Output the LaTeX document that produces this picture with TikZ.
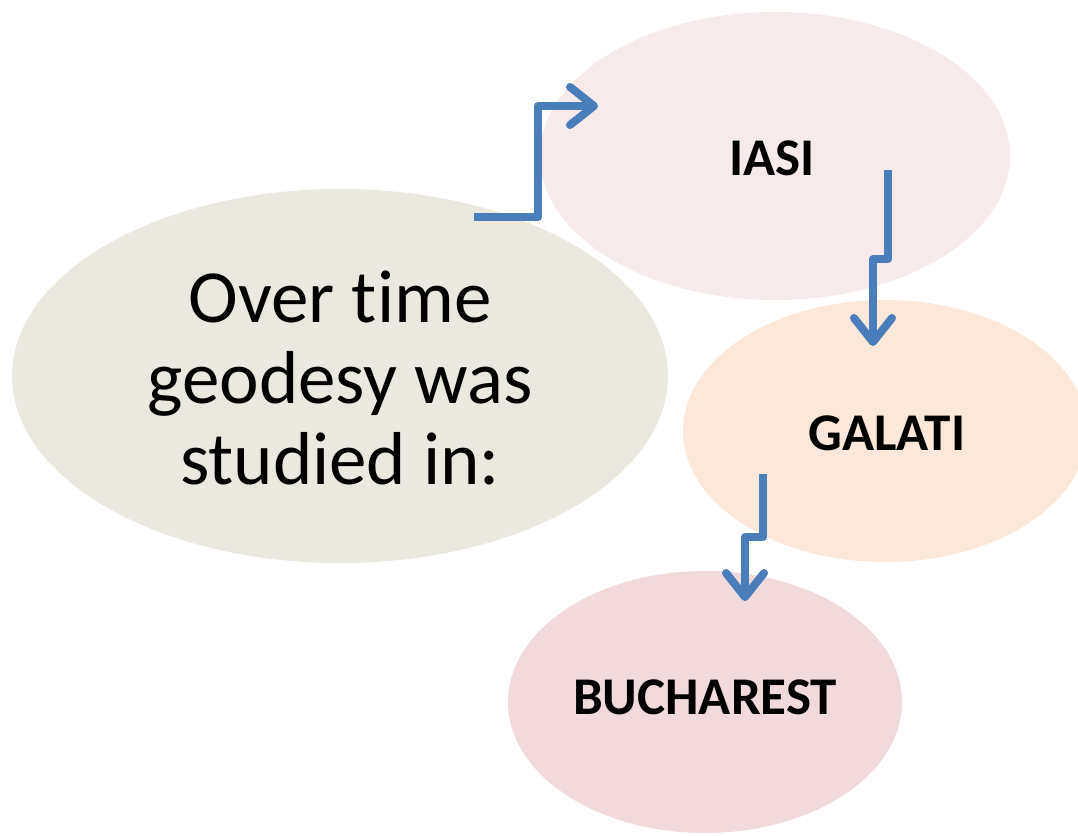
\documentclass[tikz,border=0pt]{standalone}
\usepackage{fontspec}
\setmainfont[Ligatures=NoCommon]{Carlito}
\usetikzlibrary{shapes.geometric,arrows.meta}
\definecolor{bigfill}{HTML}{EBE9DF}
\definecolor{iasifill}{HTML}{F7EAEA}
\definecolor{galfill}{HTML}{FCE8DA}
\definecolor{bucfill}{HTML}{F0DADB}
\definecolor{arrowblue}{HTML}{4A7EBB}
\tikzset{
  blob/.style={ellipse, draw=none, inner sep=0pt},
  city/.style={font=\fontsize{53}{60}\selectfont\bfseries, text=black},
  flow/.style={draw=arrowblue, line width=8pt, line join=round, line cap=butt,
    -{Straight Barb[length=24pt,width=38pt,round]}},
}
\begin{document}
\begin{tikzpicture}[x=1pt,y=-1pt]
\useasboundingbox (0,0) rectangle (1078,835);
\node[blob, fill=bigfill, minimum width=656pt, minimum height=374pt] (big) at (340,376) {};
\node[blob, fill=iasifill, minimum width=470pt, minimum height=288pt] (iasi) at (775,156) {};
\node[blob, fill=galfill, minimum width=404pt, minimum height=262pt] (galati) at (885,431) {};
\node[blob, fill=bucfill, minimum width=394pt, minimum height=262pt] (buch) at (705,702) {};
\node[align=center, font=\fontsize{75}{81}\selectfont] (bigtext) at (340,378) {Over time\\geodesy was\\studied in:};
\node[city] (iasitext) at (772,158) {IASI};
\node[city] (galtext) at (887,433) {GALATI};
\node[city] (buctext) at (705,697) {BUCHAREST};
% connectors
\coordinate (a1s) at (474,217);
\coordinate (a1b) at (538,217);
\coordinate (a1c) at (538,106);
\coordinate (a1e) at (598,106);
\draw[flow] (a1s) -- (a1b) -- (a1c) -- (a1e);
\coordinate (a2s) at (888,170);
\coordinate (a2b) at (888,259);
\coordinate (a2c) at (873,259);
\coordinate (a2e) at (873,346);
\draw[flow] (a2s) -- (a2b) -- (a2c) -- (a2e);
\coordinate (a3s) at (763,474);
\coordinate (a3b) at (763,537);
\coordinate (a3c) at (745,537);
\coordinate (a3e) at (745,601);
\draw[flow] (a3s) -- (a3b) -- (a3c) -- (a3e);
\end{tikzpicture}
\end{document}
